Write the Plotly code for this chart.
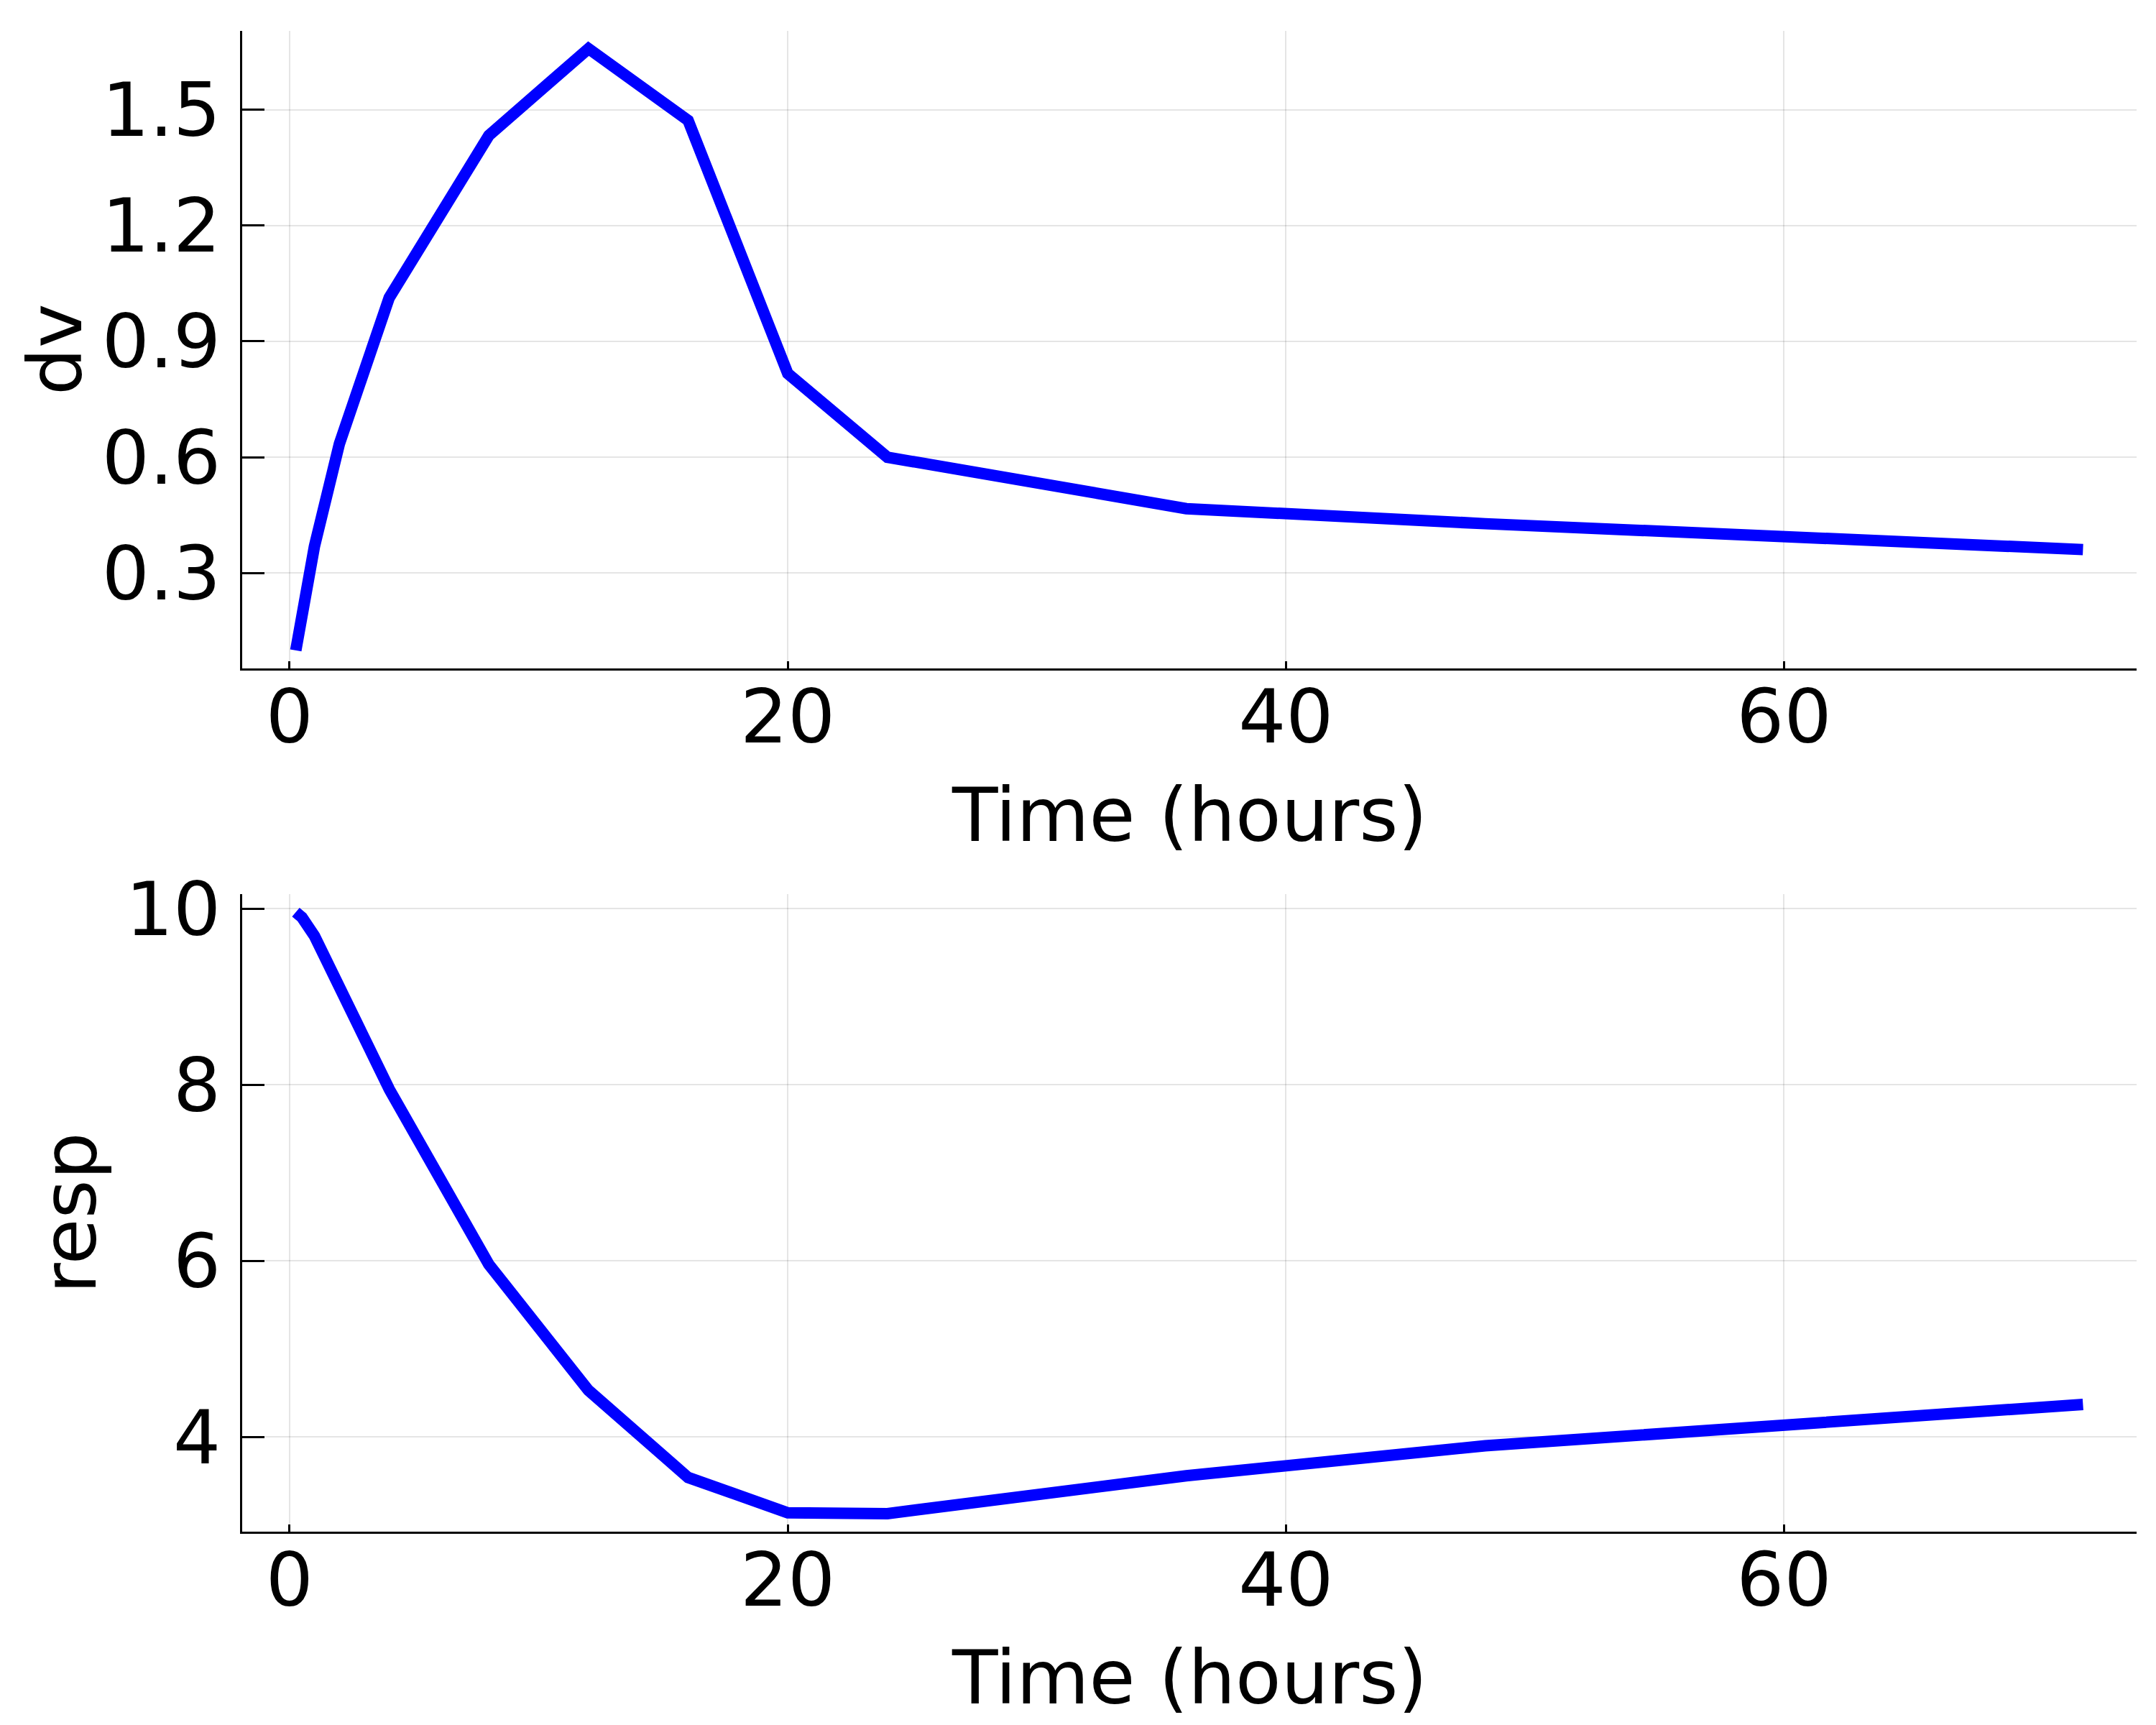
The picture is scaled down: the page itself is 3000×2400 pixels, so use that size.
import plotly.graph_objects as go
from plotly.subplots import make_subplots

# sampling times (hours) and the two simulated outputs
time_h = [0.25, 0.5, 1, 2, 4, 8, 12, 16, 20, 24, 36, 48, 60, 72]
dv = [0.10, 0.20, 0.37, 0.635, 1.013, 1.433, 1.658, 1.472, 0.817, 0.60, 0.467, 0.428, 0.394, 0.361]
resp = [9.96, 9.90, 9.69, 9.12, 7.95, 5.96, 4.53, 3.54, 3.14, 3.13, 3.56, 3.90, 4.15, 4.37]

x_ticks = [0, 20, 40, 60]
dv_ticks = [0.3, 0.6, 0.9, 1.2, 1.5]
resp_ticks = [4, 6, 8, 10]


def padded(vals, frac=0.03):
    # Plots.jl style: widen the data extent by 3% on each side
    lo, hi = min(vals), max(vals)
    span = hi - lo
    return [lo - frac * span, hi + frac * span]


FONT = "DejaVu Sans"
FSIZE = 104
BLUE = "#0000ff"
GRID = "rgba(0,0,0,0.10)"

fig = make_subplots(rows=2, cols=1)

fig.add_trace(
    go.Scatter(x=time_h, y=dv, mode="lines", line=dict(color=BLUE, width=16)),
    row=1, col=1,
)
fig.add_trace(
    go.Scatter(x=time_h, y=resp, mode="lines", line=dict(color=BLUE, width=16)),
    row=2, col=1,
)

common_x = dict(
    range=padded(time_h),
    tickvals=x_ticks,
    ticks="inside",
    ticklen=10,
    tickwidth=3,
    tickcolor="black",
    showline=True,
    linecolor="black",
    linewidth=3,
    showgrid=True,
    gridcolor=GRID,
    gridwidth=2,
    zeroline=False,
    mirror=False,
    automargin=False,
    ticklabelstandoff=-25,
    tickfont=dict(family=FONT, size=FSIZE, color="black"),
)
common_y = dict(
    ticks="inside",
    ticklen=31,
    tickwidth=3,
    tickcolor="black",
    showline=True,
    linecolor="black",
    linewidth=3,
    showgrid=True,
    gridcolor=GRID,
    gridwidth=2,
    zeroline=False,
    mirror=False,
    automargin=False,
    ticklabelstandoff=6,
    tickfont=dict(family=FONT, size=FSIZE, color="black"),
)

x_dom = [329 / 3000, 2965 / 3000]
fig.update_xaxes(common_x)
fig.update_yaxes(common_y)
fig.update_layout(
    xaxis=dict(domain=x_dom, anchor="y"),
    xaxis2=dict(domain=x_dom, anchor="y2"),
    yaxis=dict(
        domain=[1 - 922 / 2400, 1 - 34.5 / 2400],
        range=padded(dv),
        tickvals=dv_ticks,
        ticktext=[f"{v:.1f}" for v in dv_ticks],
    ),
    yaxis2=dict(
        domain=[1 - 2123 / 2400, 1 - 1236 / 2400],
        range=padded(resp),
        tickvals=resp_ticks,
    ),
)

# axis titles placed where Plots.jl/GR puts them
title_font = dict(family=FONT, size=FSIZE, color="black")
x_mid = (x_dom[0] + x_dom[1]) / 2
fig.add_annotation(text="Time (hours)", xref="paper", yref="paper", x=x_mid, y=1 - 1126 / 2400,
                   showarrow=False, xanchor="center", yanchor="middle", font=title_font)
fig.add_annotation(text="Time (hours)", xref="paper", yref="paper", x=x_mid, y=1 - 2326 / 2400,
                   showarrow=False, xanchor="center", yanchor="middle", font=title_font)
fig.add_annotation(text="dv", xref="paper", yref="paper", x=69 / 3000, y=1 - 478 / 2400,
                   showarrow=False, xanchor="center", yanchor="middle", textangle=-90, font=title_font)
fig.add_annotation(text="resp", xref="paper", yref="paper", x=89 / 3000, y=1 - 1680 / 2400,
                   showarrow=False, xanchor="center", yanchor="middle", textangle=-90, font=title_font)

fig.update_layout(
    width=3000,
    height=2400,
    margin=dict(l=0, r=0, t=0, b=0),
    paper_bgcolor="white",
    plot_bgcolor="white",
    showlegend=False,
    font=dict(family=FONT, size=FSIZE, color="black"),
)

fig.write_html("out.html")
